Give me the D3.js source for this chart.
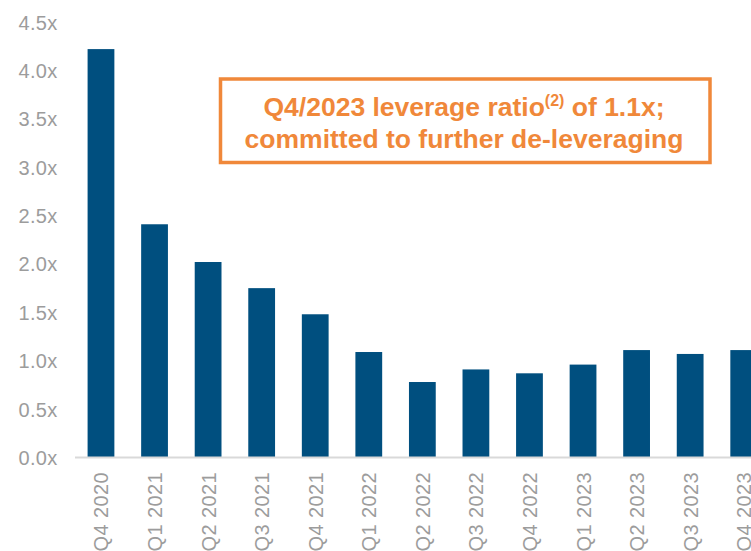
<!DOCTYPE html>
<html>
<head>
<meta charset="utf-8">
<script src="https://cdn.jsdelivr.net/npm/d3@7"></script>
<style>
  html, body { margin: 0; padding: 0; background: #ffffff; }
  svg { display: block; }
</style>
</head>
<body>
<svg id="chart" width="751" height="551"></svg>
<script>
const categories = ["Q4 2020","Q1 2021","Q2 2021","Q3 2021","Q4 2021","Q1 2022","Q2 2022","Q3 2022","Q4 2022","Q1 2023","Q2 2023","Q3 2023","Q4 2023"];
const leverage = [4.22, 2.41, 2.02, 1.75, 1.48, 1.09, 0.78, 0.91, 0.87, 0.96, 1.11, 1.07, 1.11];
const yTicks = [0, 0.5, 1.0, 1.5, 2.0, 2.5, 3.0, 3.5, 4.0, 4.5];
const noteLine1 = "Q4/2023 leverage ratio";
const noteSup = "(2)";
const noteLine1b = " of 1.1x;";
const noteLine2 = "committed to further de-leveraging";

const svg = d3.select("#chart");
const gray = "#9c9c9c";
const barColor = "#004f7f";
const orange = "#f0883a";
const font = "Liberation Sans, Arial, sans-serif";

const x = d3.scaleBand().domain(categories).range([74.2, 770.5]).paddingInner(0.5).paddingOuter(0.25);
const y = d3.scaleLinear().domain([0, 4.5]).range([457.5, 22]);

// bars
svg.append("g").selectAll("rect").data(leverage).join("rect")
  .attr("x", (d, i) => x(categories[i]))
  .attr("width", x.bandwidth())
  .attr("y", d => y(d))
  .attr("height", d => y(0) - y(d))
  .attr("fill", barColor);

// y axis (labels only)
const yAxis = d3.axisLeft(y).tickValues(yTicks).tickSize(0).tickPadding(0)
  .tickFormat(d => d3.format(".1f")(d) + "x");
const gy = svg.append("g").attr("transform", "translate(57.5,0)").call(yAxis);
gy.select(".domain").remove();
gy.selectAll("text").attr("fill", gray).attr("font-family", font)
  .attr("font-size", 20).attr("letter-spacing", "0.3px").attr("dy", "0.35em");

// x axis baseline
svg.append("line").attr("x1", 75).attr("x2", 751).attr("y1", y(0)).attr("y2", y(0))
  .attr("stroke", "#d9d9d9").attr("stroke-width", 2);

// x labels
const xAxis = d3.axisBottom(x).tickSize(0).tickPadding(0);
const gx = svg.append("g").call(xAxis);
gx.select(".domain").remove();
gx.selectAll(".tick").attr("transform", d => `translate(${x(d) + x.bandwidth() / 2 + 7.5},472)`);
gx.selectAll("text")
  .attr("transform", "rotate(-90)")
  .attr("x", 0).attr("y", 0).attr("dy", 0)
  .attr("text-anchor", "end")
  .attr("fill", gray).attr("font-family", font)
  .attr("font-size", 20).attr("letter-spacing", "0.4px");

// annotation box
svg.append("rect").attr("x", 220.5).attr("y", 79).attr("width", 489.5).attr("height", 83.5)
  .attr("fill", "#ffffff").attr("stroke", orange).attr("stroke-width", 3.5);

const t1 = svg.append("text").attr("x", 464).attr("y", 115.5).attr("text-anchor", "middle")
  .attr("fill", orange).attr("font-family", font).attr("font-weight", "bold").attr("font-size", 26.5);
t1.append("tspan").text(noteLine1);
t1.append("tspan").attr("font-size", 16).attr("dy", -10).text(noteSup);
t1.append("tspan").attr("dy", 10).text(noteLine1b);

svg.append("text").attr("x", 464).attr("y", 147.5).attr("text-anchor", "middle")
  .attr("fill", orange).attr("font-family", font).attr("font-weight", "bold").attr("font-size", 26.5)
  .text(noteLine2);
</script>
</body>
</html>
